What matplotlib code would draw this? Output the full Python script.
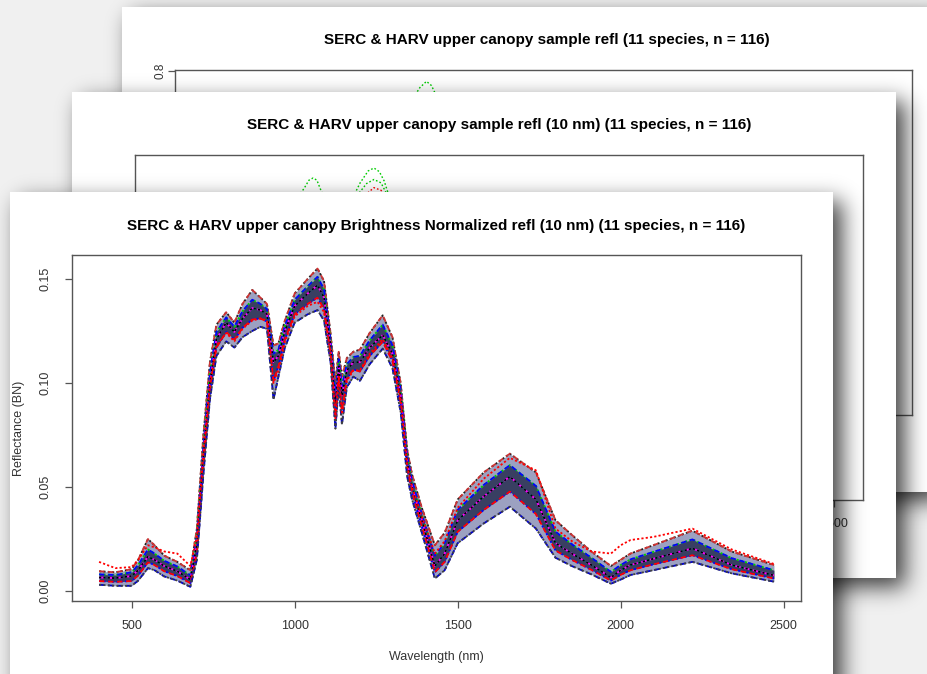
import math

import matplotlib

matplotlib.use("Agg")
import matplotlib.pyplot as plt
import numpy as np

W, H = 928, 674

# ---- data (brightness normalized reflectance) ----
wavelength = [400, 450, 500, 520, 550, 570, 600, 640, 680, 700,
              720, 740, 760, 790, 815, 840, 870, 895, 915, 935,
              950, 970, 1000, 1040, 1070, 1090, 1110, 1125, 1135, 1145,
              1160, 1180, 1200, 1230, 1270, 1300, 1325, 1345, 1360, 1390,
              1430, 1460, 1500, 1580, 1660, 1740, 1800, 1850, 1910, 1970,
              2000, 2030, 2100, 2220, 2340, 2470]

refl_upper = [0.0095, 0.0090, 0.0105, 0.015, 0.025, 0.022, 0.017, 0.014, 0.010, 0.030,
              0.075, 0.110, 0.128, 0.134, 0.129, 0.138, 0.1447, 0.141, 0.138, 0.118,
              0.119, 0.130, 0.143, 0.150, 0.155, 0.149, 0.124, 0.100, 0.115, 0.103,
              0.112, 0.115, 0.116, 0.124, 0.1325, 0.122, 0.100, 0.068, 0.056, 0.040,
              0.022, 0.028, 0.044, 0.057, 0.066, 0.057, 0.034, 0.027, 0.019, 0.012,
              0.015, 0.018, 0.022, 0.029, 0.019, 0.0125]

refl_high = [0.008, 0.0077, 0.009, 0.0125, 0.020, 0.018, 0.0145, 0.0118, 0.0075, 0.026,
             0.070, 0.105, 0.1245, 0.1315, 0.127, 0.1345, 0.140, 0.138, 0.1355, 0.114,
             0.116, 0.1275, 0.140, 0.1465, 0.151, 0.145, 0.121, 0.095, 0.1115, 0.0985,
             0.109, 0.1125, 0.113, 0.1205, 0.128, 0.118, 0.097, 0.065, 0.053, 0.037,
             0.017, 0.023, 0.039, 0.051, 0.0605, 0.0505, 0.0285, 0.0225, 0.016, 0.0092,
             0.0125, 0.0152, 0.0188, 0.0248, 0.0158, 0.010]

refl_mid = [0.0065, 0.0062, 0.0072, 0.0100, 0.0165, 0.0150, 0.0120, 0.0095, 0.0055, 0.022,
            0.065, 0.100, 0.121, 0.129, 0.1245, 0.131, 0.136, 0.135, 0.133, 0.110,
            0.113, 0.125, 0.137, 0.143, 0.147, 0.141, 0.118, 0.090, 0.108, 0.094,
            0.106, 0.110, 0.110, 0.117, 0.123, 0.114, 0.094, 0.062, 0.050, 0.034,
            0.012, 0.018, 0.034, 0.0455, 0.055, 0.044, 0.023, 0.018, 0.0125, 0.0065,
            0.010, 0.0125, 0.0155, 0.0205, 0.0125, 0.0075]

refl_low = [0.0048, 0.0044, 0.0048, 0.0075, 0.0138, 0.0125, 0.0095, 0.0072, 0.0038, 0.018,
            0.060, 0.096, 0.117, 0.1245, 0.1208, 0.1265, 0.1305, 0.131, 0.1295, 0.101,
            0.108, 0.121, 0.133, 0.138, 0.141, 0.1355, 0.114, 0.084, 0.103, 0.087,
            0.102, 0.1065, 0.1055, 0.113, 0.1198, 0.1105, 0.090, 0.0585, 0.047, 0.031,
            0.009, 0.014, 0.0285, 0.039, 0.0478, 0.037, 0.0195, 0.015, 0.0102, 0.005,
            0.0078, 0.010, 0.0128, 0.0172, 0.0105, 0.006]

refl_lower = [0.003, 0.0025, 0.0025, 0.005, 0.011, 0.010, 0.007, 0.005, 0.002, 0.015,
              0.056, 0.092, 0.113, 0.120, 0.117, 0.122, 0.125, 0.127, 0.126, 0.092,
              0.103, 0.117, 0.129, 0.133, 0.135, 0.130, 0.110, 0.078, 0.098, 0.080,
              0.098, 0.103, 0.101, 0.109, 0.1165, 0.107, 0.086, 0.055, 0.044, 0.028,
              0.006, 0.010, 0.023, 0.0325, 0.0405, 0.030, 0.016, 0.012, 0.008, 0.0035,
              0.0055, 0.0077, 0.010, 0.014, 0.0085, 0.0045]

refl_outlier = [0.014, 0.011, 0.0115, 0.015, 0.022, 0.021, 0.019, 0.018, 0.012, 0.026,
                0.066, 0.099, 0.118, 0.124, 0.120, 0.126, 0.130, 0.131, 0.130, 0.100,
                0.106, 0.120, 0.132, 0.137, 0.139, 0.134, 0.114, 0.083, 0.102, 0.085,
                0.101, 0.106, 0.106, 0.114, 0.121, 0.112, 0.092, 0.060, 0.050, 0.036,
                0.018, 0.024, 0.040, 0.054, 0.064, 0.058, 0.030, 0.024, 0.019, 0.018,
                0.022, 0.0245, 0.026, 0.030, 0.020, 0.013]

x_ticks = [500, 1000, 1500, 2000, 2500]
y_ticks = [0.00, 0.05, 0.10, 0.15]
y_tick_labels = ["0.00", "0.05", "0.10", "0.15"]

# ---- visible scraps of the two pages behind ----
p2_wl_a = [820, 845, 860, 873, 885, 895, 920]
p2_refl_a = [0.78, 0.81, 0.832, 0.838, 0.832, 0.81, 0.76]
p2_wl_b = [980, 1000, 1020, 1045, 1063, 1080, 1095, 1110]
p2_refl_b = [0.76, 0.79, 0.825, 0.857, 0.865, 0.855, 0.83, 0.79]
p2_wl_c = [1010, 1040, 1063, 1085, 1100]
p2_refl_c = [0.79, 0.823, 0.834, 0.825, 0.80]
p2_refl_red = [0.77, 0.795, 0.812, 0.805, 0.79]
p1_wl = [1040, 1060, 1080, 1095, 1110]
p1_refl = [0.735, 0.76, 0.775, 0.765, 0.74]

TITLE_1 = "SERC & HARV upper canopy sample refl (11 species, n = 116)"
TITLE_2 = "SERC & HARV upper canopy sample refl (10 nm) (11 species, n = 116)"
TITLE_3 = "SERC & HARV upper canopy Brightness Normalized refl (10 nm) (11 species, n = 116)"

FONT = ["Liberation Sans", "DejaVu Sans"]
AXIS_GRAY = "#555555"


def fig_rect(x0, y0, x1, y1):
    """Pixel box (top-left origin) -> figure fraction rect."""
    return [x0 / W, 1 - y1 / H, (x1 - x0) / W, (y1 - y0) / H]


_erf = np.vectorize(math.erf)


def add_shadow(fig, box, z, offset=9, sigma=11, strength=0.75):
    x0, y0, x1, y1 = box
    xs = np.arange(W) + 0.5
    ys = np.arange(H) + 0.5
    s = sigma * math.sqrt(2)
    mx = 0.5 * (_erf((xs - x0 - offset) / s) - _erf((xs - x1 - offset) / s))
    my = 0.5 * (_erf((ys - y0 - offset) / s) - _erf((ys - y1 - offset) / s))
    rgba = np.zeros((H, W, 4))
    rgba[..., 3] = strength * np.outer(my, mx)
    ax = fig.add_axes([0, 0, 1, 1], zorder=z)
    ax.imshow(rgba, extent=(0, W, H, 0), aspect="auto", interpolation="bilinear")
    ax.set_xlim(0, W)
    ax.set_ylim(H, 0)
    ax.axis("off")


def add_page(fig, box, z):
    x0, y0, x1, y1 = box
    ax = fig.add_axes(fig_rect(x0, y0, x1, y1), zorder=z)
    ax.set_xlim(x0, x1)
    ax.set_ylim(y1, y0)
    ax.set_facecolor("white")
    ax.set_xticks([])
    ax.set_yticks([])
    for sp in ax.spines.values():
        sp.set_visible(False)
    return ax


def style_plot(ax, xlim, ylim):
    ax.set_xlim(*xlim)
    ax.set_ylim(*ylim)
    ax.set_facecolor("white")
    for sp in ax.spines.values():
        sp.set_color(AXIS_GRAY)
        sp.set_linewidth(1.0)
    ax.tick_params(colors=AXIS_GRAY, length=5, width=0.9, labelcolor="#333333")


fig = plt.figure(figsize=(W / 100, H / 100), dpi=100, facecolor="#f0f0f0")

page1 = (122, 7, 935, 492)
page2 = (72, 92, 896, 578)
page3 = (10, 192, 833, 700)

# page 1 (back)
add_shadow(fig, page1, 0.5)
pg1 = add_page(fig, page1, 1)
pg1.text(547, 40, TITLE_1, ha="center", va="center", fontsize=11,
         fontweight="bold", family=FONT)
ax1 = fig.add_axes(fig_rect(175, 70, 912, 415), zorder=1.5)
style_plot(ax1, (317, 2553), (-0.032, 0.8025))
ax1.set_yticks([0.8])
ax1.set_yticklabels(["0.8"], rotation=90, va="center", family=FONT, fontsize=8.5)
ax1.tick_params(axis="y", pad=1)
ax1.set_xticks([])
ax1.plot(p1_wl, p1_refl, color="#00CD00", ls=(0, (1.2, 1.5)), lw=1)

# page 2 (middle)
add_shadow(fig, page2, 2)
pg2 = add_page(fig, page2, 3)
pg2.text(499, 125, TITLE_2, ha="center", va="center", fontsize=11,
         fontweight="bold", family=FONT)
ax2 = fig.add_axes(fig_rect(135, 155, 863, 500), zorder=3.5)
style_plot(ax2, (317, 2590), (-0.03, 0.9))
ax2.set_xticks(x_ticks)
ax2.set_xticklabels([str(t) for t in x_ticks], family=FONT, fontsize=9)
ax2.tick_params(axis="x", pad=8)
ax2.set_yticks([])
ax2.plot(p2_wl_a, p2_refl_a, color="#00CD00", ls=(0, (1.2, 1.5)), lw=1)
ax2.plot(p2_wl_b, p2_refl_b, color="#00CD00", ls=(0, (1.2, 1.5)), lw=1)
ax2.plot(p2_wl_c, p2_refl_c, color="#00CD00", ls=(0, (1.2, 1.5)), lw=1)
ax2.plot(p2_wl_c, p2_refl_red, color="#FF0000", ls=(0, (1.2, 1.5)), lw=1)

# page 3 (front)
add_shadow(fig, page3, 4)
pg3 = add_page(fig, page3, 5)
pg3.text(436, 226, TITLE_3, ha="center", va="center", fontsize=11,
         fontweight="bold", family=FONT)
pg3.text(436, 657, "Wavelength (nm)", ha="center", va="center", fontsize=9,
         family=FONT, color="#333333")
pg3.text(19, 428, "Reflectance (BN)", ha="center", va="center", fontsize=9,
         family=FONT, color="#333333", rotation=90)

ax3 = fig.add_axes(fig_rect(72, 255, 801, 601), zorder=5.5)
style_plot(ax3, (317, 2553), (-0.0048, 0.1615))
ax3.set_xticks(x_ticks)
ax3.set_xticklabels([str(t) for t in x_ticks], family=FONT, fontsize=9)
ax3.set_yticks(y_ticks)
ax3.set_yticklabels(y_tick_labels, rotation=90, va="center", family=FONT, fontsize=9)
ax3.tick_params(axis="x", pad=9)
ax3.tick_params(axis="y", pad=10)

ax3.fill_between(wavelength, refl_lower, refl_upper, color="#3a4585", alpha=0.5, lw=0)
ax3.fill_between(wavelength, refl_low, refl_high, color="#10163a", alpha=0.7, lw=0)

dot = (0, (1.2, 1.2))
dash = (0, (3, 2))
series = [
    (refl_upper, "#202020", dot),
    (refl_upper, "#CD3333", dash),
    (refl_high, "#00CD00", dot),
    (refl_high, "#0000FF", dash),
    (refl_mid, "#00CDCD", dot),
    (refl_mid, "#FF00FF", dash),
    (refl_mid, "#000000", dot),
    (refl_low, "#0000FF", dot),
    (refl_low, "#FF0000", dash),
    (refl_lower, "#0000CD", dash),
    (refl_lower, "#404040", dot),
    (refl_outlier, "#FF0000", dot),
]
for values, color, ls in series:
    ax3.plot(wavelength, values, color=color, ls=ls, lw=1.3)

fig.savefig("out.png", dpi=100, facecolor=fig.get_facecolor())
